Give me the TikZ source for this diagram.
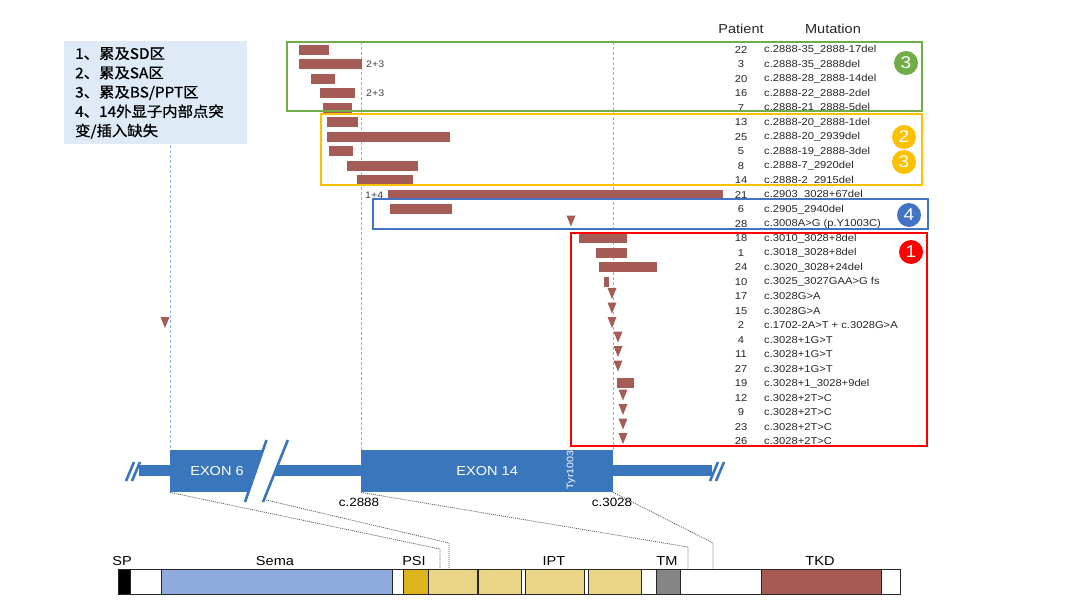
\documentclass[tikz,border=0pt]{standalone}
\usepackage{fontspec}
\setmainfont{Liberation Sans}[FakeStretch=1.12]
\newfontfamily\cjk{Noto Sans CJK SC}[FakeStretch=1.06,AutoFakeBold=1]
\usetikzlibrary{calc}
\definecolor{barc}{HTML}{A65C56}
\definecolor{exonc}{HTML}{3A76BC}
\definecolor{greenc}{HTML}{70AD47}
\definecolor{yellowc}{HTML}{FFC000}
\definecolor{bluec}{HTML}{4472C4}
\definecolor{redc}{HTML}{FF0000}
\definecolor{legc}{HTML}{DEEBF7}
\definecolor{guidec}{HTML}{8DB3E2}
\definecolor{semac}{HTML}{8FAADC}
\definecolor{psic}{HTML}{DDB41E}
\definecolor{iptc}{HTML}{EAD587}
\definecolor{tmc}{HTML}{858585}
\definecolor{tkdc}{HTML}{A65A52}
\tikzset{
  pat/.style={inner sep=0pt, font=\fontsize{10}{10}\selectfont, text=black!85},
  mut/.style={inner sep=0pt, anchor=west, font=\fontsize{10}{10}\selectfont, text=black!85},
  hdr/.style={inner sep=0pt, font=\fontsize{13}{13}\selectfont, text=black!85},
  combo/.style={inner sep=0pt, anchor=west, font=\fontsize{9.5}{9.5}\selectfont, text=black!75},
  badge/.style={circle, minimum size=24pt, inner sep=0pt, text=white, font=\fontsize{17}{17}\selectfont},
  groupbox/.style={line width=2.2pt},
  guide/.style={guidec, line width=1pt, dash pattern=on 3pt off 2pt},
  exonbox/.style={fill=exonc, inner sep=0pt, text=white, font=\fontsize{13}{13}\selectfont},
  seg/.style={draw=black!85, line width=1pt, anchor=north west, inner sep=0pt, outer sep=0pt, minimum height=25pt},
  domlab/.style={inner sep=0pt, font=\fontsize{13}{13}\selectfont},
  mapline/.style={black!65, line width=0.8pt, dash pattern=on 1pt off 1pt},
  cutline/.style={exonc, line width=2.6pt},
}
\begin{document}
\begin{tikzpicture}[x=1pt,y=-1pt]
\useasboundingbox (0,0) rectangle (1080,608);
% legend
\fill[legc] (64,41) rectangle (247,144);
\node[anchor=north west, inner sep=0pt, align=left, font=\cjk\bfseries\fontsize{14.5}{19.3}\selectfont] (legend) at (75,47)
 {1、累及SD区\\2、累及SA区\\3、累及BS/PPT区\\4、14外显子内部点突\\变/插入缺失};
% guide lines
\draw[guide] (170,145) -- (170,450);
\draw[guide] (361,42) -- (361,450);
\draw[guide] (613,42) -- (613,450);
% header
\node[hdr] (hpat) at (741,29) {Patient};
\node[hdr] (hmut) at (833,29) {Mutation};
% rows
\foreach \i/\p/\m in {
 1/22/{c.2888-35\_2888-17del},
 2/3/{c.2888-35\_2888del},
 3/20/{c.2888-28\_2888-14del},
 4/16/{c.2888-22\_2888-2del},
 5/7/{c.2888-21\_2888-5del},
 6/13/{c.2888-20\_2888-1del},
 7/25/{c.2888-20\_2939del},
 8/5/{c.2888-19\_2888-3del},
 9/8/{c.2888-7\_2920del},
 10/14/{c.2888-2\_2915del},
 11/21/{c.2903\_3028+67del},
 12/6/{c.2905\_2940del},
 13/28/{c.3008A>G (p.Y1003C)},
 14/18/{c.3010\_3028+8del},
 15/1/{c.3018\_3028+8del},
 16/24/{c.3020\_3028+24del},
 17/10/{c.3025\_3027GAA>G fs},
 18/17/{c.3028G>A},
 19/15/{c.3028G>A},
 20/2/{c.1702-2A>T + c.3028G>A},
 21/4/{c.3028+1G>T},
 22/11/{c.3028+1G>T},
 23/27/{c.3028+1G>T},
 24/19/{c.3028+1\_3028+9del},
 25/12/{c.3028+2T>C},
 26/9/{c.3028+2T>C},
 27/23/{c.3028+2T>C},
 28/26/{c.3028+2T>C}}{
  \node[pat] (p\i) at (741,{50+(\i-1)*14.5}) {\p};
  \node[mut] (m\i) at (764,{50+(\i-1)*14.5}) {\m};
}
% bars
\foreach \r/\a/\b in {1/299/329, 2/299/362, 3/311/335, 4/320/355, 5/323/352,
  6/327/358, 7/327/450, 8/329/353, 9/347/418, 10/357/413, 11/388/723, 12/390/452,
  14/579/627, 15/596/627, 16/599/657, 17/604/609, 24/617/634}{
  \fill[barc] (\a,{50+(\r-1)*14.5-5.5}) rectangle (\b,{50+(\r-1)*14.5+4.5});
}
% triangles
\foreach \r/\x in {13/571, 18/612, 19/612, 20/612, 20/165, 21/618, 22/618, 23/618,
  25/623, 26/623, 27/623, 28/623}{
  \fill[barc] ({\x-4.5},{50+(\r-1)*14.5-8.5}) -- ({\x+4.5},{50+(\r-1)*14.5-8.5})
     -- (\x,{50+(\r-1)*14.5+2.5}) -- cycle;
}
% combination labels
\node[combo] (c2) at (366,64.5) {2+3};
\node[combo] (c4) at (366,93.5) {2+3};
\node[combo] (c11) at (365,195) {1+4};
% group boxes
\draw[groupbox, greenc] (287,42) rectangle (922,111);
\draw[groupbox, yellowc] (321,114) rectangle (922,185);
\draw[groupbox, bluec] (373,199) rectangle (928,229);
\draw[groupbox, redc] (571,233) rectangle (927,446);
% badges
\node[badge, fill=greenc] (g3) at (906,63) {3};
\node[badge, fill=yellowc] (y2) at (904,137) {2};
\node[badge, fill=yellowc] (y3) at (904,162) {3};
\node[badge, fill=bluec] (b4) at (909,215) {4};
\node[badge, fill=redc] (r1) at (911,252) {1};
% gene structure
\fill[exonc] (139,465) rectangle (712,476);
\draw[cutline] (126,481) -- (134,462);
\draw[cutline] (132,481) -- (140,462);
\draw[cutline] (710,481) -- (718,462);
\draw[cutline] (716,481) -- (724,462);
\node[exonbox, minimum width=96pt, minimum height=42pt, anchor=north west] (ex6) at (170,450) {};
\node[text=white, inner sep=0pt, font=\fontsize{13}{13}\selectfont] (ex6lab) at (217,471) {EXON 6};
\fill[white] (266.5,440) -- (287.8,440) -- (263,502) -- (245,502) -- cycle;
\draw[cutline] (266.5,440) -- (245,502);
\draw[cutline] (287.8,440) -- (263,502);
\coordinate (slb) at (266,500);
\node[exonbox, minimum width=252pt, minimum height=42pt, anchor=north west] (ex14) at (361,450) {EXON 14};
\node[rotate=90, text=white, inner sep=0pt, font=\fontsize{9.5}{9.5}\selectfont] (tyr) at (571,470) {Tyr1003};
\node[inner sep=0pt, font=\fontsize{12}{12}\selectfont] (l2888) at (359,502) {c.2888};
\node[inner sep=0pt, font=\fontsize{12}{12}\selectfont] (l3028) at (612,502) {c.3028};
% domain bar
\node[seg, minimum width=782pt, fill=white] (prot) at (118,569) {};
\node[seg, minimum width=12pt, fill=black] (sp) at (118,569) {};
\node[seg, minimum width=231pt, fill=semac] (sema) at (161,569) {};
\node[seg, minimum width=25.5pt, fill=psic] (psi) at (403,569) {};
\node[seg, minimum width=48.5pt, fill=iptc] (ipt1) at (428.5,569) {};
\node[seg, minimum width=43pt, fill=iptc] (ipt2) at (478,569) {};
\node[seg, minimum width=59pt, fill=iptc] (ipt3) at (525,569) {};
\node[seg, minimum width=53pt, fill=iptc] (ipt4) at (588,569) {};
\node[seg, minimum width=24.5pt, fill=tmc] (tm) at (656,569) {};
\node[seg, minimum width=119.4pt, fill=tkdc] (tkd) at (761.6,569) {};
\node[domlab] (lsp) at (122,561) {SP};
\node[domlab] (lsema) at (275,561) {Sema};
\node[domlab] (lpsi) at (414,561) {PSI};
\node[domlab] (lipt) at (554,561) {IPT};
\node[domlab] (ltm) at (667,561) {TM};
\node[domlab] (ltkd) at (820,561) {TKD};
% mapping lines
\coordinate (ka) at (440,549);
\coordinate (kb) at (449,543);
\coordinate (kc) at (688,547);
\coordinate (kd) at (713,543);
\draw[mapline] (ex6.south west) -- (ka) -- (ka |- ipt1.north);
\draw[mapline] (slb) -- (kb) -- (kb |- ipt1.north);
\draw[mapline] (ex14.south west) -- (kc) -- (kc |- prot.north);
\draw[mapline] (ex14.south east) -- (kd) -- (kd |- prot.north);
\end{tikzpicture}
\end{document}
